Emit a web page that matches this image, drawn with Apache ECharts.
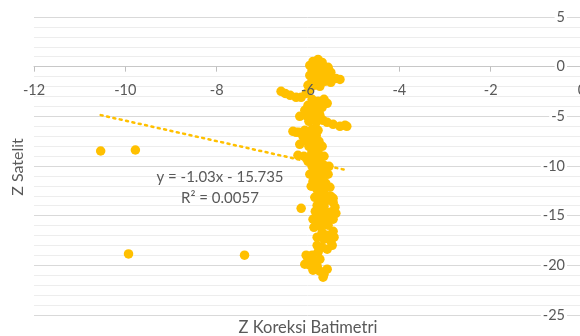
<!DOCTYPE html>
<html>
<head>
<meta charset="utf-8">
<script src="https://cdn.jsdelivr.net/npm/echarts@6/dist/echarts.min.js"></script>
<style>
  html, body { margin: 0; padding: 0; background: #fff; }
  #chart { width: 580px; height: 336px; }
</style>
</head>
<body>
<div id="chart"></div>
<script>
// Z Koreksi Batimetri (x) vs Z Satelit (y)
const zKoreksi = [
  -5.89, -5.78, -5.69, -5.96, -5.82, -5.69, -5.56, -5.91, -5.78, -5.63, -5.50, -5.96, -5.82,
  -5.69, -5.54, -5.39, -5.30, -5.91, -5.78, -5.63, -5.50, -6.00, -5.87, -5.74, -5.96,
  -6.59, -6.50, -6.39, -6.26, -6.15, -6.04,
  -5.91, -5.78, -5.65, -5.58, -6.00, -5.85, -5.69, -6.07, -5.91, -5.76, -6.18, -6.02, -5.87,
  -5.74, -5.98, -5.82, -5.67, -5.58, -5.45, -5.30, -5.19, -5.15,
  -6.33, -6.20, -6.07, -5.91, -5.78, -6.11, -5.96, -5.82, -6.04, -5.89, -5.76, -5.98, -5.85,
  -5.91, -5.78, -6.22, -6.09, -5.96, -5.82, -6.00, -5.87, -5.74, -5.91, -5.78, -5.65, -5.54,
  -6.18, -5.69, -5.65, -6.26,
  -5.85, -5.69, -5.80, -5.67, -5.89, -5.76, -5.61, -5.82, -5.69, -5.78, -5.63, -5.50, -5.74,
  -5.58, -5.45, -5.80, -5.65, -5.41, -5.69, -5.52, -6.15,
  -5.96, -5.56, -5.93, -5.52, -5.85, -5.45, -5.84, -5.39,
  -5.74, -5.58, -5.78, -5.63, -5.87, -5.72, -5.56, -5.45, -5.69, -5.58, -5.65, -5.50, -5.47,
  -5.69, -5.58, -5.78, -5.91, -6.00, -5.87, -5.74, -5.96, -5.80, -5.89, -5.74, -5.65, -5.67,
  -5.89, -5.45, -5.80, -5.43, -5.80, -6.07, -5.58, -6.04, -5.74,
  -10.54, -9.78, -9.93, -7.39
];
const zSatelit = [
  0.53, 0.73, 0.43, 0.13, 0.13, 0.03, -0.07, -0.37, -0.37, -0.47, -0.57, -0.88, -0.88,
  -0.98, -0.98, -1.18, -1.28, -1.38, -1.48, -1.48, -1.58, -1.88, -1.88, -1.98, -2.28,
  -2.48, -2.69, -2.89, -3.09, -3.09, -2.69,
  -3.29, -3.49, -3.29, -3.69, -3.89, -3.99, -4.09, -4.40, -4.50, -4.60, -5.00, -5.00, -5.10,
  -4.90, -5.50, -5.60, -5.40, -5.60, -5.80, -6.01, -5.91, -6.01,
  -6.51, -6.61, -6.41, -6.31, -6.41, -7.01, -7.01, -6.91, -7.51, -7.62, -7.51, -8.02, -8.12,
  -8.52, -8.62, -8.92, -9.02, -9.02, -9.12, -9.53, -9.63, -9.63, -10.03, -10.03, -9.93, -10.03,
  -7.82, -8.02, -9.02, -6.61,
  -10.53, -10.53, -11.04, -11.14, -11.54, -11.74, -11.74, -12.24, -12.34, -12.75, -12.85, -13.05, -13.35,
  -13.45, -13.65, -13.95, -14.05, -14.15, -14.56, -14.66, -14.26,
  -10.83, -10.83, -12.04, -12.14, -13.15, -13.25, -14.56, -14.76,
  -15.06, -15.16, -15.56, -15.66, -16.17, -16.07, -15.96, -16.57, -16.67, -16.97, -17.37, -17.57, -17.98,
  -18.18, -18.38, -18.68, -18.98, -19.48, -19.59, -19.38, -19.99, -20.09, -20.49, -20.59, -20.89, -21.19,
  -15.36, -15.36, -17.17, -17.17, -17.98, -19.89, -20.39, -18.98, -15.96,
  -8.49, -8.39, -18.85, -18.98
];

// linear trendline shown on the chart
const trendSlope = -1.03;
const trendIntercept = -15.735;
const equationText = 'y = -1.03x - 15.735';
const r2Text = 'R\u00b2 = 0.0057';

const xTicks = { min: -12, max: 0, interval: 2 };
const yTicks = { min: -25, max: 5, interval: 5 };

const points = zKoreksi.map((x, i) => [x, zSatelit[i]]);
const xMin = Math.min(...zKoreksi);
const xMax = Math.max(...zKoreksi);
const trendData = [
  [xMin, trendSlope * xMin + trendIntercept],
  [xMax, trendSlope * xMax + trendIntercept]
];

const font = 'Lato, "Open Sans", sans-serif';
const textColor = '#595959';
const gold = '#FFC000';

// the x axis crosses y = 0, which sits 50px below the top of the plot
const gridTop = 17;
const gridHeight = 298;
const zeroOffset = -gridHeight * (yTicks.max / (yTicks.max - yTicks.min));

const chart = echarts.init(document.getElementById('chart'));

chart.setOption({
  animation: false,
  grid: {
    left: 34, top: gridTop, width: 548, height: gridHeight,
    containLabel: false,
    outerBoundsMode: 'none'
  },
  xAxis: [
    {
      // line and ticks on y = 0
      type: 'value',
      min: xTicks.min,
      max: xTicks.max,
      interval: xTicks.interval,
      position: 'bottom',
      axisLine: { onZero: true, lineStyle: { color: '#c8c8c8', width: 1 } },
      axisTick: { show: true, length: 5, lineStyle: { color: '#bfbfbf' } },
      axisLabel: { show: false },
      splitLine: { show: false }
    },
    {
      // tick labels, placed under the zero line and above the markers
      type: 'value',
      min: xTicks.min,
      max: xTicks.max,
      interval: xTicks.interval,
      position: 'top',
      offset: zeroOffset,
      z: 5,
      axisLine: { show: false, onZero: false },
      axisTick: { show: false },
      axisLabel: {
        inside: true,
        margin: 16,
        color: textColor,
        fontFamily: font,
        fontSize: 14.5,
        showMaxLabel: true,
        showMinLabel: true
      },
      splitLine: { show: false }
    }
  ],
  yAxis: {
    type: 'value',
    min: yTicks.min,
    max: yTicks.max,
    interval: yTicks.interval,
    position: 'right',
    axisLine: { show: false },
    axisTick: { show: false },
    axisLabel: {
      inside: true,
      margin: 15,
      color: textColor,
      fontFamily: font,
      fontSize: 14.5,
      backgroundColor: '#fff',
      padding: [0, 2, 0, 2]
    },
    splitLine: { lineStyle: { color: '#d9d9d9', width: 1 } },
    minorTick: { show: false, splitNumber: 5 },
    minorSplitLine: { show: true, lineStyle: { color: '#ededed', width: 1 } }
  },
  series: [
    {
      type: 'scatter',
      xAxisIndex: 0,
      data: points,
      symbol: 'circle',
      symbolSize: 9.5,
      itemStyle: { color: gold, opacity: 1 },
      z: 3
    },
    {
      type: 'line',
      xAxisIndex: 0,
      data: trendData,
      symbol: 'none',
      silent: true,
      lineStyle: { color: gold, width: 2.5, type: [2, 4.5], cap: 'round' },
      z: 4
    }
  ],
  graphic: [
    {
      type: 'text',
      x: 308, y: 328,
      style: {
        text: 'Z Koreksi Batimetri',
        align: 'center', verticalAlign: 'middle',
        fill: textColor, font: '16.5px ' + font
      }
    },
    {
      type: 'text',
      x: 18, y: 167,
      rotation: Math.PI / 2,
      style: {
        text: 'Z Satelit',
        align: 'center', verticalAlign: 'middle',
        fill: textColor, font: '16px ' + font
      }
    },
    {
      type: 'text',
      x: 220, y: 177,
      z: 20,
      style: {
        text: equationText,
        align: 'center', verticalAlign: 'middle',
        fill: textColor, font: '15px ' + font
      }
    },
    {
      type: 'text',
      x: 220, y: 198,
      z: 20,
      style: {
        text: r2Text,
        align: 'center', verticalAlign: 'middle',
        fill: textColor, font: '15px ' + font
      }
    }
  ]
});
</script>
</body>
</html>
